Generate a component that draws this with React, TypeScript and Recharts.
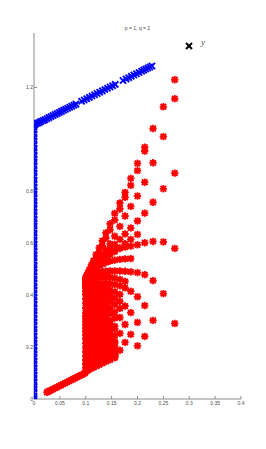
import { ScatterChart, Scatter, XAxis, YAxis } from "recharts";

// axis ticks
const xTicks = [0, 0.05, 0.1, 0.15, 0.2, 0.25, 0.3, 0.35, 0.4];
const yTicks = [0, 0.2, 0.4, 0.6, 0.8, 1, 1.2];

// blue "x" markers: the column on x = 0 ...
const blueColumnY = [
    0, 0.012, 0.025, 0.04, 0.052, 0.066, 0.08, 0.093, 0.107, 0.12, 0.134,
    0.147, 0.161, 0.175, 0.188, 0.202, 0.216, 0.229, 0.243, 0.257, 0.27, 0.284,
    0.298, 0.311, 0.325, 0.339, 0.352, 0.366, 0.38, 0.393, 0.407, 0.421, 0.434,
    0.448, 0.462, 0.475, 0.489, 0.503, 0.516, 0.53, 0.544, 0.557, 0.571, 0.585,
    0.598, 0.612, 0.626, 0.639, 0.653, 0.667, 0.68, 0.694, 0.708, 0.721, 0.735,
    0.749, 0.762, 0.776, 0.79, 0.803, 0.817, 0.831, 0.844, 0.858, 0.872, 0.885,
    0.899, 0.913, 0.926, 0.94, 0.954, 0.967, 0.981, 0.995, 1.008, 1.022, 1.036,
    1.049,
];
// ... and the diagonal after it
const blueDiagX = [
    0.002, 0.005, 0.008, 0.011, 0.014, 0.018, 0.021, 0.025, 0.029, 0.033, 0.037,
    0.041, 0.045, 0.049, 0.053, 0.057, 0.061, 0.065, 0.069, 0.073, 0.077, 0.081,
    0.092, 0.097, 0.102, 0.107, 0.112, 0.117, 0.122, 0.127, 0.132, 0.137, 0.142,
    0.147, 0.152, 0.157, 0.172, 0.178, 0.183, 0.188, 0.193, 0.198, 0.203, 0.208,
    0.212, 0.216, 0.22, 0.224, 0.228,
];
const blueDiagY = [
    1.057, 1.061, 1.063, 1.066, 1.07, 1.073, 1.076, 1.08, 1.084, 1.088, 1.092,
    1.096, 1.1, 1.104, 1.108, 1.112, 1.116, 1.12, 1.124, 1.128, 1.132, 1.136,
    1.147, 1.152, 1.157, 1.162, 1.167, 1.172, 1.177, 1.182, 1.187, 1.192, 1.197,
    1.202, 1.207, 1.212, 1.227, 1.233, 1.238, 1.243, 1.248, 1.253, 1.258, 1.263,
    1.267, 1.271, 1.275, 1.279, 1.283,
];

// red "*" markers: the run up from the origin
const redBaseX = [
    0.025, 0.028, 0.031, 0.034, 0.037, 0.041, 0.044, 0.048, 0.052, 0.056, 0.06,
    0.064, 0.068, 0.072, 0.076, 0.08, 0.084, 0.088, 0.092, 0.096, 0.099,
];
const redBaseY = [
    0.026, 0.029, 0.032, 0.035, 0.038, 0.042, 0.045, 0.049, 0.053, 0.057, 0.061,
    0.065, 0.069, 0.073, 0.077, 0.081, 0.085, 0.089, 0.093, 0.097, 0.101,
];

// the fan: every branch shares these x steps
const fanX = [
    0.1, 0.101, 0.102, 0.104, 0.107, 0.111, 0.115, 0.12, 0.126, 0.132, 0.139,
    0.147, 0.156, 0.166, 0.176, 0.187, 0.2, 0.214, 0.23, 0.25, 0.272,
];
const fan1 = [0.467, 0.471, 0.476, 0.485, 0.498, 0.516, 0.533, 0.556, 0.582, 0.609, 0.64, 0.675, 0.715, 0.755, 0.796, 0.85, 0.908, 0.97, 1.042, 1.126, 1.23];
const fan2 = [0.46, 0.464, 0.468, 0.476, 0.488, 0.504, 0.52, 0.54, 0.565, 0.59, 0.62, 0.652, 0.69, 0.732, 0.777, 0.823, 0.88, 0.955];
const fan3 = [0.455, 0.458, 0.461, 0.467, 0.476, 0.488, 0.5, 0.515, 0.533, 0.552, 0.573, 0.597, 0.627, 0.665, 0.705, 0.742, 0.782, 0.835, 0.91, 1.011, 1.157];
const fan4 = [0.462, 0.465, 0.468, 0.474, 0.483, 0.494, 0.505, 0.518, 0.533, 0.547, 0.562, 0.578, 0.596, 0.615, 0.636, 0.659, 0.686, 0.716, 0.758, 0.81, 0.87];
const fan4b = [0.458, 0.46, 0.463, 0.468, 0.476, 0.486, 0.496, 0.508, 0.52, 0.532, 0.544, 0.556, 0.568, 0.582, 0.598, 0.615, 0.634];
const fan5 = [0.45, 0.455, 0.46, 0.47, 0.485, 0.503, 0.518, 0.531, 0.542, 0.551, 0.559, 0.567, 0.574, 0.58, 0.585, 0.589, 0.594, 0.602, 0.607, 0.605, 0.58];
const fan5b = [0.445, 0.449, 0.453, 0.461, 0.472, 0.485, 0.496, 0.506, 0.514, 0.52, 0.526, 0.531, 0.535, 0.538, 0.54, 0.541];
const fan6 = [0.44, 0.445, 0.45, 0.458, 0.467, 0.475, 0.481, 0.486, 0.489, 0.491, 0.492, 0.493, 0.493, 0.493, 0.492, 0.49, 0.487, 0.479, 0.456, 0.406, 0.291];
const fan6b = [0.434, 0.437, 0.44, 0.445, 0.451, 0.457, 0.462, 0.466, 0.469, 0.47, 0.47, 0.469, 0.466, 0.461, 0.453];
const fan7 = [0.427, 0.428, 0.429, 0.431, 0.434, 0.437, 0.44, 0.442, 0.444, 0.445, 0.445, 0.444, 0.441, 0.436, 0.428, 0.415, 0.394, 0.36, 0.303];
const fan7b = [0.415, 0.416, 0.417, 0.419, 0.421, 0.424, 0.426, 0.427, 0.427, 0.426, 0.424, 0.42, 0.413, 0.403];
const fan8 = [0.402, 0.403, 0.404, 0.406, 0.408, 0.41, 0.411, 0.411, 0.41, 0.408, 0.404, 0.398, 0.389, 0.376, 0.358, 0.333, 0.295, 0.241];
const fan8b = [0.385, 0.386, 0.387, 0.388, 0.39, 0.392, 0.393, 0.393, 0.391, 0.388, 0.383, 0.375, 0.364, 0.349];
const fan9 = [0.368, 0.369, 0.37, 0.371, 0.372, 0.373, 0.373, 0.372, 0.37, 0.366, 0.36, 0.35, 0.335, 0.314, 0.287, 0.249, 0.205];
const fan9b = [0.35, 0.351, 0.351, 0.352, 0.353, 0.354, 0.354, 0.353, 0.35, 0.346, 0.339, 0.328, 0.312];
const fan10 = [0.332, 0.333, 0.333, 0.334, 0.335, 0.335, 0.334, 0.332, 0.328, 0.322, 0.313, 0.3, 0.28, 0.253, 0.218];
const fan10b = [0.32, 0.321, 0.321, 0.322, 0.323, 0.323, 0.322, 0.32, 0.316, 0.31, 0.301, 0.288, 0.27];
const fan18 = [0.31, 0.311, 0.311, 0.312, 0.313, 0.313, 0.312, 0.31, 0.306, 0.3, 0.29, 0.276];
const fan18b = [0.298, 0.299, 0.299, 0.3, 0.301, 0.301, 0.3, 0.298, 0.294, 0.288, 0.279, 0.265, 0.245];
const fan11 = [0.286, 0.287, 0.287, 0.288, 0.289, 0.289, 0.288, 0.285, 0.28, 0.273, 0.262, 0.245, 0.222, 0.188];
const fan11b = [0.273, 0.274, 0.274, 0.275, 0.276, 0.276, 0.275, 0.273, 0.269, 0.262, 0.252, 0.237, 0.216];
const fan17 = [0.26, 0.261, 0.262, 0.263, 0.264, 0.265, 0.265, 0.264, 0.261, 0.256, 0.248, 0.236];
const fan17b = [0.246, 0.247, 0.248, 0.249, 0.25, 0.251, 0.251, 0.25, 0.247, 0.242, 0.234, 0.222, 0.205];
const fan12 = [0.232, 0.233, 0.234, 0.235, 0.236, 0.236, 0.235, 0.232, 0.227, 0.219, 0.208, 0.192, 0.169];
const fan12b = [0.215, 0.216, 0.217, 0.218, 0.219, 0.22, 0.22, 0.219, 0.216, 0.211, 0.203, 0.192, 0.177];
const fan16 = [0.198, 0.199, 0.2, 0.202, 0.204, 0.207, 0.209, 0.211, 0.212, 0.211, 0.208, 0.201, 0.19];
const fan16b = [0.182, 0.183, 0.184, 0.186, 0.188, 0.191, 0.193, 0.195, 0.196, 0.196, 0.194, 0.189, 0.18];
const fan15 = [0.165, 0.166, 0.167, 0.169, 0.172, 0.176, 0.179, 0.183, 0.186, 0.188, 0.188, 0.185, 0.178];
const fan15b = [0.15, 0.151, 0.152, 0.154, 0.157, 0.161, 0.164, 0.168, 0.172, 0.175, 0.176, 0.175, 0.17];
const fan14 = [0.135, 0.136, 0.137, 0.139, 0.142, 0.146, 0.15, 0.155, 0.16, 0.164, 0.168, 0.17, 0.168];
const fan14b = [0.12, 0.121, 0.122, 0.124, 0.127, 0.131, 0.135, 0.14, 0.145, 0.15, 0.155, 0.159, 0.162];
const fan13 = [0.107, 0.108, 0.109, 0.111, 0.114, 0.118, 0.122, 0.127, 0.132, 0.138, 0.144, 0.151, 0.159];

const fans = [
    fan1, fan2, fan3, fan4, fan4b, fan5, fan5b, fan6, fan6b, fan7, fan7b, fan8,
    fan8b, fan9, fan9b, fan10, fan10b, fan18, fan18b, fan11, fan11b, fan17,
    fan17b, fan12, fan12b, fan16, fan16b, fan15, fan15b, fan14, fan14b, fan13,
];

const bluePoints = [
    ...blueColumnY.map((y) => ({ x: 0, y })),
    ...blueDiagX.map((x, i) => ({ x, y: blueDiagY[i] })),
];
const redPoints = [
    ...redBaseX.map((x, i) => ({ x, y: redBaseY[i] })),
    ...fans.flatMap((f) => f.map((y, i) => ({ x: fanX[i], y }))),
];

function Cross(props: any) {
    const { cx, cy } = props;
    const r = 3.1;
    return (
        <g stroke="#0000ff" strokeWidth={1.9}>
            <line x1={cx - r} y1={cy - r} x2={cx + r} y2={cy + r} />
            <line x1={cx - r} y1={cy + r} x2={cx + r} y2={cy - r} />
        </g>
    );
}

function Asterisk(props: any) {
    const { cx, cy } = props;
    const r = 3.7;
    const d = r * 0.75;
    return (
        <g stroke="#ff0000" strokeWidth={1.8}>
            <circle cx={cx} cy={cy} r={2.7} fill="#ff0000" stroke="none" />
            <line x1={cx - r} y1={cy} x2={cx + r} y2={cy} />
            <line x1={cx} y1={cy - r} x2={cx} y2={cy + r} />
            <line x1={cx - d} y1={cy - d} x2={cx + d} y2={cy + d} />
            <line x1={cx - d} y1={cy + d} x2={cx + d} y2={cy - d} />
        </g>
    );
}

const tickStyle = { fontSize: 5, fill: "#4d4d4d", fontFamily: "Liberation Sans, Arial, sans-serif" };

export default function App() {
    return (
        <div style={{ position: "relative", width: 266, height: 449, background: "#fff" }}>
            <style>{`body { margin: 0; }`}</style>
            <ScatterChart
                width={266}
                height={449}
                margin={{ top: 33, right: 25, bottom: 0, left: 0 }}
            >
                <XAxis
                    type="number"
                    dataKey="x"
                    domain={[0, 0.4]}
                    ticks={xTicks}
                    height={50}
                    tickSize={-3}
                    tickMargin={5}
                    tick={tickStyle}
                    stroke="#8c8c8c"
                    interval={0}
                    allowDataOverflow
                />
                <YAxis
                    type="number"
                    dataKey="y"
                    domain={[0, 1.41]}
                    ticks={yTicks}
                    width={34}
                    tickSize={-3}
                    tickMargin={4}
                    tick={tickStyle}
                    tickFormatter={(v: number) => (v === 1 ? "" : String(v))}
                    stroke="#8c8c8c"
                    interval={0}
                    allowDataOverflow
                />
                <Scatter data={redPoints} shape={Asterisk} isAnimationActive={false} />
                <Scatter data={bluePoints} shape={Cross} isAnimationActive={false} />
            </ScatterChart>
            <div
                style={{
                    position: "absolute",
                    left: 0,
                    width: 275,
                    top: 25,
                    textAlign: "center",
                    fontSize: 5,
                    color: "#4d4d4d",
                    fontFamily: "Liberation Sans, Arial, sans-serif",
                }}
            >
                p = 1, q = 2
            </div>
            <svg
                style={{ position: "absolute", left: 0, top: 0 }}
                width={266}
                height={449}
                pointerEvents="none"
            >
                <g stroke="#000" strokeWidth={2}>
                    <line x1={186} y1={43} x2={192} y2={49} />
                    <line x1={186} y1={49} x2={192} y2={43} />
                </g>
                <text
                    x={201}
                    y={45}
                    fontSize={9}
                    fontStyle="italic"
                    fontFamily="Liberation Serif, Times New Roman, serif"
                    fill="#555"
                >
                    y
                </text>
            </svg>
        </div>
    );
}
